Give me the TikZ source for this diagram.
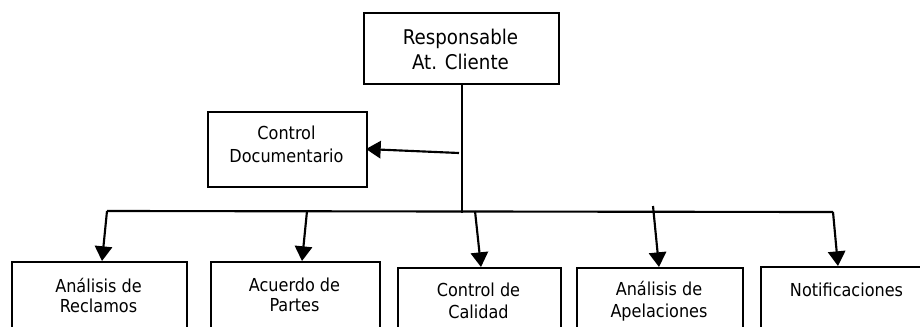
\documentclass[tikz,border=0pt]{standalone}
\usepackage{fontspec}
\setmainfont{DejaVu Sans Condensed}
\usetikzlibrary{arrows.meta}
\begin{document}
\begin{tikzpicture}[x=0.75pt,y=-0.75pt,
  box/.style={draw,line width=1.5pt,inner sep=0pt,anchor=north west},
  lbl/.style={align=center,inner sep=0pt,font=\fontsize{13.4}{15}\selectfont},
  lblb/.style={align=center,inner sep=0pt,font=\fontsize{13.4}{16.5}\selectfont},
  conn/.style={line width=1.6pt,-{Triangle[length=11pt,width=13pt]}},
  trunk/.style={line width=1.1pt}]
\useasboundingbox (0,0) rectangle (920,326);
\clip (0,0) rectangle (920,326);
% boxes
\node[box,minimum width=146.25pt,minimum height=53.25pt] (top) at (363,12) {};
\node[box,minimum width=119.25pt,minimum height=56.25pt] (cd) at (207,111) {};
\node[box,minimum width=131.25pt,minimum height=70pt] (b1) at (11,261) {};
\node[box,minimum width=126.75pt,minimum height=70pt] (b2) at (210,261) {};
\node[box,minimum width=122.25pt,minimum height=70pt] (b3) at (397,267) {};
\node[box,minimum width=124.5pt,minimum height=70pt] (b4) at (576,267) {};
\node[box,minimum width=130pt,minimum height=70pt] (b5) at (760,266) {};
% texts
\node[align=center,inner sep=0pt,font=\fontsize{15.2}{18.75}\selectfont] (ttop) at (460.5,49.5) {Responsable\\At. Cliente};
\node[align=center,inner sep=0pt,font=\fontsize{13.4}{17.25}\selectfont] (tcd) at (286.5,144.5) {Control\\Documentario};
\node[lbl] (t1) at (98.5,295) {Análisis de\\Reclamos};
\node[lbl] (t2) at (294.5,295) {Acuerdo de\\Partes};
\node[lblb] (t3) at (478.5,301) {Control de\\Calidad};
\node[lblb] (t4) at (659,301) {Análisis de\\Apelaciones};
\node[lbl] (t5) at (846.5,290) {Notificaciones};
% connector points
\coordinate (tb) at (462,83);
\coordinate (vb) at (462,213);
\coordinate (mid) at (459,153);
\coordinate (cde) at (366,149);
\coordinate (hl) at (107,211);
\coordinate (hr) at (833,212);
\coordinate (s2) at (307,211);
\coordinate (s3) at (475,211);
\coordinate (s4) at (653,206);
\coordinate (e1) at (102,261);
\coordinate (e2) at (302,261);
\coordinate (e3) at (481,267);
\coordinate (e4) at (659,267);
\coordinate (e5) at (838,266);
% lines
\draw[trunk] (tb) -- (vb);
\draw[conn] (mid) -- (cde);
\draw[line width=1.6pt] (hl) -- (hr);
\draw[conn] (hl) -- (e1);
\draw[conn] (s2) -- (e2);
\draw[conn] (s3) -- (e3);
\draw[conn] (s4) -- (e4);
\draw[conn] (hr) -- (e5);
\end{tikzpicture}
\end{document}
